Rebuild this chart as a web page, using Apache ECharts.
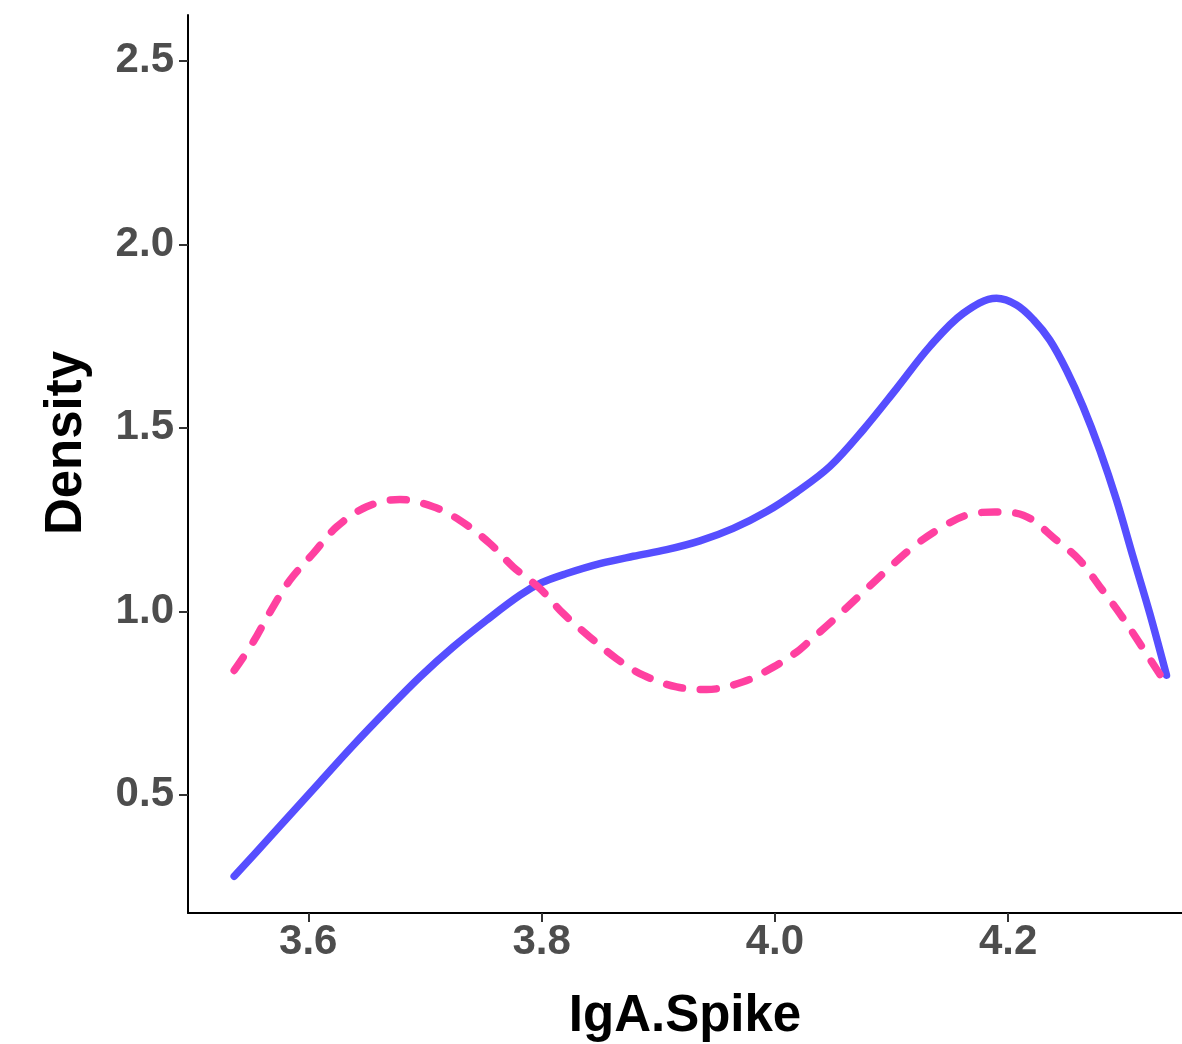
<!DOCTYPE html>
<html>
<head>
<meta charset="utf-8">
<script src="https://cdn.jsdelivr.net/npm/echarts@6/dist/echarts.min.js"></script>
<style>html,body{margin:0;padding:0;background:#fff}#c{width:1182px;height:1044px}</style>
</head>
<body>
<div id="c"></div>
<script>
const xTicks = [3.6, 3.8, 4.0, 4.2];
const yTicks = [0.5, 1.0, 1.5, 2.0, 2.5];
const xTitle = 'IgA.Spike';
const yTitle = 'Density';

const blueX = [3.5365, 3.5672, 3.610, 3.6386, 3.6672, 3.6957, 3.7243, 3.7529, 3.7815, 3.8000, 3.8215, 3.85, 3.8786, 3.9072, 3.9357, 3.9643, 3.9929, 4.0186, 4.0472, 4.0758, 4.1043, 4.1329, 4.1614, 4.19, 4.2072, 4.2216, 4.2357, 4.25, 4.2643, 4.2786, 4.2929, 4.3071, 4.3214, 4.3357];
const blueY = [0.278, 0.385, 0.535, 0.635, 0.730, 0.821, 0.903, 0.976, 1.044, 1.078, 1.103, 1.130, 1.150, 1.168, 1.192, 1.226, 1.272, 1.325, 1.395, 1.495, 1.607, 1.722, 1.812, 1.853, 1.835, 1.795, 1.739, 1.657, 1.557, 1.439, 1.303, 1.148, 0.994, 0.826];

const pinkX = [3.5365, 3.5529, 3.5672, 3.5843, 3.6043, 3.6243, 3.65, 3.6786, 3.7071, 3.73, 3.7557, 3.7757, 3.7986, 3.8186, 3.8414, 3.8643, 3.8871, 3.9157, 3.9415, 3.9729, 3.9986, 4.0186, 4.0272, 4.05, 4.0729, 4.0958, 4.1186, 4.1415, 4.1643, 4.1886, 4.2129, 4.2414, 4.2614, 4.2786, 4.2957, 4.3129, 4.3357];
const pinkY = [0.839, 0.917, 0.998, 1.085, 1.158, 1.230, 1.285, 1.305, 1.285, 1.248, 1.185, 1.121, 1.062, 0.994, 0.930, 0.871, 0.826, 0.794, 0.787, 0.808, 0.848, 0.889, 0.912, 0.976, 1.044, 1.112, 1.176, 1.226, 1.262, 1.271, 1.262, 1.194, 1.139, 1.067, 0.994, 0.912, 0.800];

const font = '"Liberation Sans", Arial, Helvetica, sans-serif';
const chart = echarts.init(document.getElementById('c'), null, {renderer: 'canvas'});
chart.setOption({
  animation: false,
  backgroundColor: '#ffffff',
  grid: {left: 188, top: 15, right: 0, bottom: 131, containLabel: false, outerBoundsMode: 'none'},
  xAxis: {
    type: 'value', min: 3.4969, max: 4.349,
    name: xTitle, nameLocation: 'middle', nameGap: 78,
    nameTextStyle: {fontFamily: font, fontWeight: 'bold', fontSize: 51, color: '#000'},
    axisLine: {show: true, lineStyle: {color: '#000', width: 2}},
    axisTick: {show: true, length: 9, lineStyle: {color: '#333', width: 2}, customValues: xTicks},
    axisLabel: {margin: 8, fontFamily: font, fontWeight: 'bold', fontSize: 42, color: '#4d4d4d', customValues: xTicks,
      formatter: v => v.toFixed(1)},
    splitLine: {show: false}
  },
  yAxis: {
    type: 'value', min: 0.178, max: 2.625,
    name: yTitle, nameLocation: 'middle', nameGap: 96,
    nameTextStyle: {fontFamily: font, fontWeight: 'bold', fontSize: 51, color: '#000', padding: [0, 0, 0, 42]},
    axisLine: {show: true, lineStyle: {color: '#000', width: 2}},
    axisTick: {show: true, length: 9, lineStyle: {color: '#333', width: 2}, customValues: yTicks},
    axisLabel: {margin: 14, fontFamily: font, fontWeight: 'bold', fontSize: 42, color: '#4d4d4d', customValues: yTicks,
      formatter: v => v.toFixed(1)},
    splitLine: {show: false}
  },
  series: [
    {
      type: 'line', name: 'solid', smooth: 0.35, showSymbol: false,
      data: blueX.map((x, i) => [x, blueY[i]]),
      lineStyle: {color: '#564eff', width: 7.5, cap: 'round', join: 'round'}
    },
    {
      type: 'line', name: 'dashed', smooth: 0.35, showSymbol: false,
      data: pinkX.map((x, i) => [x, pinkY[i]]),
      lineStyle: {color: '#ff40a0', width: 7.5, type: [16, 18], cap: 'round', join: 'round'}
    }
  ]
});
</script>
</body>
</html>
